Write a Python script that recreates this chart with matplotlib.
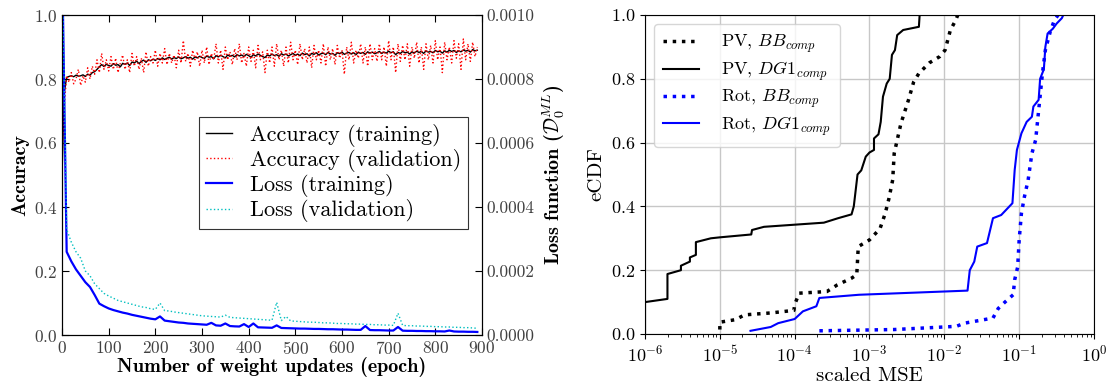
import numpy as np
import matplotlib
matplotlib.use("Agg")
import matplotlib.pyplot as plt

plt.rcParams['font.family'] = ['cmr10', 'DejaVu Serif']
plt.rcParams['mathtext.fontset'] = 'cm'
plt.rcParams['axes.formatter.use_mathtext'] = True
plt.rcParams['axes.unicode_minus'] = False

# --- left panel data ---
# accuracy every 5 epochs, in percent
acc_epochs = np.arange(0, 891, 5)
acc_train_pct = [
    50, 76, 80.5, 80.8, 81.0, 80.7, 81.2, 80.9, 81.0, 81.3, 80.8, 81.5, 81.2, 82.0, 82.3, 83.0,
    83.8, 84.5, 83.9, 84.6, 84.2, 84.0, 84.8, 84.3, 84.5, 83.8, 84.9, 84.6, 85.0, 84.2, 85.3,
    85.0, 85.6, 84.8, 85.5, 85.9, 85.2, 86.0, 85.7, 86.2, 85.8, 86.4, 86.0, 86.6, 86.1, 86.5,
    86.8, 86.2, 86.7, 86.4, 86.9, 86.3, 86.6, 87.0, 86.5, 86.8, 86.2, 86.9, 86.6, 87.1, 86.7,
    86.4, 87.2, 86.8, 87.0, 86.3, 87.3, 86.9, 87.4, 87.0, 86.6, 87.5, 87.1, 87.4, 86.9, 87.6,
    87.2, 87.5, 87.0, 87.7, 87.3, 86.8, 87.6, 87.2, 87.8, 87.4, 87.0, 86.7, 87.5, 87.2, 87.8,
    87.3, 87.6, 87.1, 87.9, 87.5, 87.8, 87.2, 87.6, 88.0, 87.4, 87.8, 87.3, 88.1, 87.6, 87.9,
    87.2, 88.0, 87.7, 88.2, 87.5, 87.9, 88.1, 87.6, 88.3, 87.8, 88.0, 87.4, 88.2, 87.9, 88.4,
    87.7, 88.1, 88.3, 87.8, 88.2, 87.6, 88.4, 88.0, 88.3, 87.7, 88.5, 88.1, 88.4, 87.9, 88.2,
    88.6, 88.0, 88.4, 88.1, 88.7, 88.2, 88.5, 87.6, 88.3, 88.0, 88.6, 88.2, 88.4, 87.8, 88.5,
    88.1, 88.7, 88.3, 88.6, 88.0, 88.8, 88.4, 88.6, 88.2, 88.9, 88.5, 88.7, 88.1, 88.8, 88.4,
    89.0, 88.6, 88.9, 88.3, 88.8, 88.5, 89.1, 88.7, 89.0, 88.4, 89.2, 88.8, 89.0]
acc_val_pct = [
    55, 72, 81, 79, 82, 78.5, 80, 83, 78, 81, 79, 83.5, 80, 84, 81.5, 86, 82, 88, 83, 86, 82.5,
    87, 83, 86.5, 82, 85, 87.5, 83, 86, 82, 88, 84, 87, 83, 86.5, 82, 88.5, 84, 87, 85, 89, 84,
    88, 85, 89.5, 84.5, 88, 85, 87.5, 83.5, 89, 85, 92, 85.5, 88, 84, 89, 86, 88.5, 84, 89, 85,
    90, 84.5, 88, 86, 91, 85, 89, 83, 90, 86, 88.5, 84.5, 89.5, 86, 91, 85, 88, 84, 90, 85.5,
    89, 83.5, 90.5, 86, 88.5, 82, 89, 85, 90, 84, 91, 86, 89, 84, 90, 85, 91.5, 86, 89, 84.5,
    91, 86, 89.5, 85, 90, 83.5, 90.5, 86, 89, 85, 91, 84, 90, 86, 89.5, 84.5, 90.5, 86.5, 89,
    81.5, 90, 86, 91.5, 85, 89, 86.5, 91, 85, 90, 84, 91, 86, 89.5, 85.5, 91, 86, 90, 84, 92,
    86, 90, 82, 91, 85.5, 90.5, 86, 91, 84, 90, 86.5, 91.5, 85, 90, 83, 91, 86, 90.5, 85, 92,
    86, 90, 82, 91.5, 86, 90, 85, 92, 86.5, 91, 83, 92.5, 86, 91, 85.5, 91.5, 87, 90]

# loss every 10 epochs, in units of 1e-6
loss_epochs = np.arange(0, 891, 10)
loss_train_u = [
    1200, 260, 230, 205, 185, 165, 150, 125, 98, 90, 83, 78, 74, 70, 67, 63, 60, 57, 54, 51,
    49, 58, 45, 43, 41, 39, 38, 36, 35, 34, 33, 32, 38, 30, 29, 36, 28, 27, 26.5, 34, 25, 36,
    24, 23.5, 23, 22.5, 30, 22, 21.5, 21, 20.5, 20, 20, 19.5, 19, 19, 18.5, 18, 18, 17.5, 17,
    17, 16.5, 16, 16, 28, 15.5, 15, 15, 14.5, 14, 14, 25, 13.5, 13, 13, 12.5, 12.5, 12, 12,
    11.5, 11.5, 11, 14, 11, 10.5, 10.5, 10, 10, 9.5]
loss_val_u = [
    1200, 330, 290, 260, 240, 200, 185, 160, 145, 130, 122, 115, 108, 104, 100, 96, 92, 88, 86,
    82, 80, 100, 76, 75, 72, 70, 68, 66, 64, 62, 60, 59, 58, 57, 56, 62, 55, 54, 53, 52, 51, 50,
    49, 48, 47, 46, 102, 45, 58, 44, 43, 42, 41, 40, 40, 39, 38, 38, 37, 36, 36, 35, 35, 34, 34,
    33, 33, 32, 32, 31, 31, 30, 68, 30, 29, 29, 28, 28, 27, 27, 26, 26, 25, 25, 24, 24, 23, 23,
    22, 21]

# --- right panel data: eCDF steps (log10 of scaled MSE, eCDF) ---
pv_dg1_logx = [-6.0, -6.0, -5.70, -5.70, -5.52, -5.52, -5.40, -5.40, -5.32, -5.32, -5.12, -5.0,
               -4.58, -4.57, -4.41, -3.61, -3.42, -3.24, -3.21, -3.16, -3.11, -3.05, -3.0, -2.94,
               -2.94, -2.88, -2.85, -2.82, -2.77, -2.73, -2.70, -2.66, -2.63, -2.55, -2.34, -2.33]
pv_dg1_y = [0.0, 0.10, 0.11, 0.188, 0.20, 0.214, 0.227, 0.24, 0.248, 0.288, 0.30, 0.303,
            0.312, 0.326, 0.336, 0.349, 0.363, 0.375, 0.40, 0.50, 0.513, 0.556, 0.569, 0.577,
            0.613, 0.626, 0.665, 0.744, 0.785, 0.80, 0.875, 0.89, 0.937, 0.953, 0.963, 1.0]

pv_bb_logx = [-5.0, -5.0, -4.79, -4.67, -4.32, -4.01, -4.0, -3.94, -3.57, -3.43, -3.24, -3.17,
              -3.15, -3.0, -2.86, -2.79, -2.74, -2.69, -2.67, -2.63, -2.58, -2.48, -2.41, -2.34,
              -2.20, -2.06, -1.99, -1.92, -1.85, -1.82]
pv_bb_y = [0.014, 0.037, 0.045, 0.06, 0.066, 0.074, 0.092, 0.128, 0.133, 0.154, 0.175, 0.186,
           0.274, 0.295, 0.33, 0.378, 0.425, 0.483, 0.566, 0.608, 0.66, 0.733, 0.79, 0.817,
           0.85, 0.87, 0.89, 0.952, 0.983, 1.0]

rot_bb_logx = [-3.67, -2.67, -1.84, -1.73, -1.35, -1.28, -1.19, -1.08, -1.06, -1.02, -1.0,
               -0.97, -0.93, -0.88, -0.83, -0.78, -0.74, -0.69, -0.65, -0.58, -0.53, -0.48]
rot_bb_y = [0.01, 0.014, 0.024, 0.034, 0.05, 0.08, 0.10, 0.123, 0.17, 0.21, 0.295, 0.378,
            0.43, 0.483, 0.566, 0.608, 0.70, 0.815, 0.89, 0.952, 0.983, 1.0]

rot_dg1_logx = [-4.59, -4.32, -4.22, -4.0, -3.89, -3.71, -3.67, -3.14, -1.69, -1.66, -1.60,
                -1.56, -1.43, -1.35, -1.24, -1.09, -1.06, -1.03, -0.97, -0.90, -0.83, -0.81,
                -0.74, -0.72, -0.67, -0.65, -0.62, -0.55, -0.50, -0.43, -0.41]
rot_dg1_y = [0.01, 0.022, 0.034, 0.047, 0.071, 0.087, 0.113, 0.123, 0.136, 0.20, 0.227, 0.274,
             0.285, 0.363, 0.373, 0.41, 0.514, 0.577, 0.629, 0.665, 0.681, 0.713, 0.734, 0.80,
             0.83, 0.90, 0.942, 0.957, 0.973, 0.99, 1.0]

fig = plt.figure(figsize=(11.12, 3.86), dpi=100)

# ---------------- left: training curves ----------------
ax1 = fig.add_axes([62/1112, 1-335/386, 420/1112, 320/386])
l1, = ax1.plot(acc_epochs, np.array(acc_train_pct)/100, color='k', lw=1.0)
l2, = ax1.plot(acc_epochs, np.array(acc_val_pct)/100, color='r', lw=1.0, ls=':')
ax1.set_xlim(0, 900)
ax1.set_ylim(0, 1)
ax1.set_xticks(np.arange(0, 901, 100))
ax1.set_yticks(np.arange(0, 1.01, 0.2))
ax1.tick_params(direction='in', top=True, labelsize=12.5, labelcolor='0.25', length=5)
ax1.set_xlabel('Number of weight updates (epoch)', fontsize=14.5, family='cmb10', labelpad=0)
ax1.set_ylabel('Accuracy', fontsize=14.5, family='cmb10', labelpad=3)

ax2 = ax1.twinx()
l3, = ax2.plot(loss_epochs, np.array(loss_train_u)*1e-6, color='b', lw=1.6)
l4, = ax2.plot(loss_epochs, np.array(loss_val_u)*1e-6, color='c', lw=1.0, ls=':')
ax2.set_ylim(0, 0.001)
ax2.set_yticks(np.arange(0, 0.00101, 0.0002))
ax2.set_yticklabels(['0.0000', '0.0002', '0.0004', '0.0006', '0.0008', '0.0010'])
ax2.tick_params(direction='in', labelsize=12.5, labelcolor='0.25', length=5)
ax2.set_ylabel(r'Loss function ($\mathcal{D}_0^{ML}$)', fontsize=14.5, family='cmb10', labelpad=4)

leg = ax2.legend([l1, l2, l3, l4],
                 ['Accuracy (training)', 'Accuracy (validation)', 'Loss (training)', 'Loss (validation)'],
                 loc='upper left', bbox_to_anchor=(0.326, 0.681), fontsize=16, fancybox=False,
                 framealpha=1, edgecolor='0.2', handlelength=1.2, labelspacing=0.1,
                 borderpad=0.3, handletextpad=0.8, borderaxespad=0)
leg.get_frame().set_linewidth(0.8)

# ---------------- right: eCDF ----------------
ax3 = fig.add_axes([645/1112, 1-334/386, 449/1112, 319/386])
ax3.plot(10**np.array(pv_bb_logx), pv_bb_y, color='k', ls=':', lw=2.5, label=r'PV, $BB_{comp}$')
ax3.plot(10**np.array(pv_dg1_logx), pv_dg1_y, color='k', ls='-', lw=1.5, label=r'PV, $DG1_{comp}$')
ax3.plot(10**np.array(rot_bb_logx), rot_bb_y, color='b', ls=':', lw=2.5, label=r'Rot, $BB_{comp}$')
ax3.plot(10**np.array(rot_dg1_logx), rot_dg1_y, color='b', ls='-', lw=1.5, label=r'Rot, $DG1_{comp}$')
ax3.set_xscale('log')
ax3.set_xlim(1e-6, 1)
ax3.set_ylim(0, 1)
ax3.set_yticks(np.arange(0, 1.01, 0.2))
ax3.grid(True, color='0.78', lw=1.0)
ax3.tick_params(labelsize=13)
ax3.set_xlabel('scaled MSE', fontsize=15, labelpad=2)
ax3.set_ylabel('eCDF', fontsize=15)
ax3.legend(loc='upper left', fontsize=13, handlelength=2.0, labelspacing=0.25,
           handletextpad=1.2, borderpad=0.5)

fig.savefig('out.png', dpi=100)
